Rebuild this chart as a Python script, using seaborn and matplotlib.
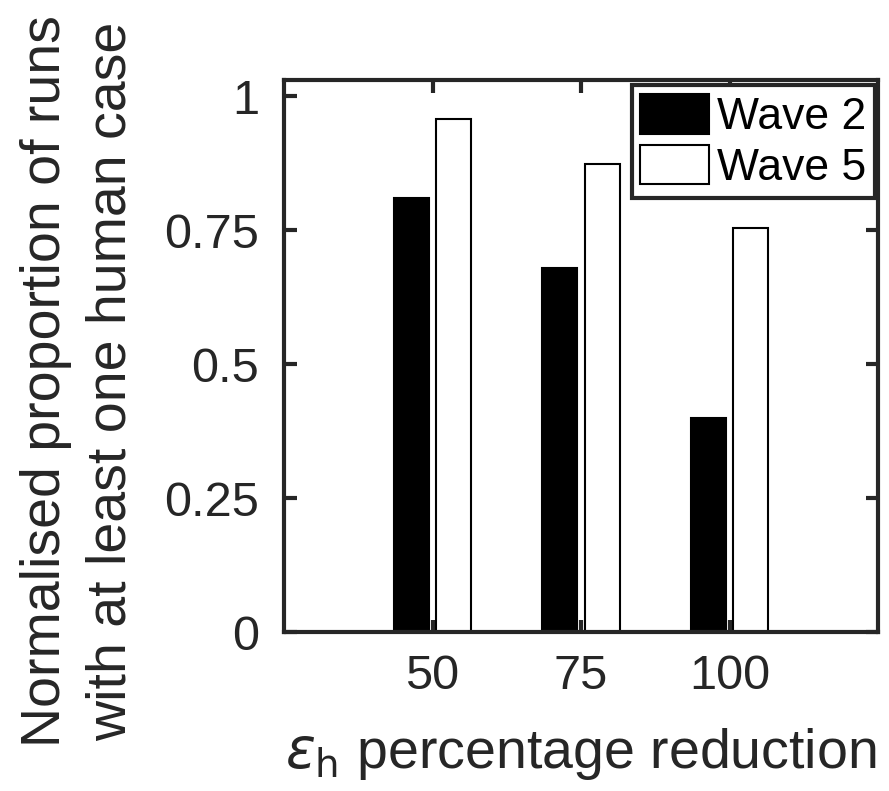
import matplotlib
matplotlib.use("Agg")
import matplotlib.pyplot as plt
import seaborn as sns
import pandas as pd

categories = ["50", "75", "100"]
wave2 = [0.81, 0.679, 0.399]
wave5 = [0.957, 0.873, 0.754]
series_names = ["Wave 2", "Wave 5"]
yticks = [0, 0.25, 0.5, 0.75, 1]
ytick_labels = ["0", "0.25", "0.5", "0.75", "1"]

df = pd.DataFrame({
    "cat": categories * 2,
    "val": wave2 + wave5,
    "series": [series_names[0]] * 3 + [series_names[1]] * 3,
})

sns.set_theme(style="white")
plt.rcParams["font.family"] = ["Liberation Sans", "DejaVu Sans"]
plt.rcParams["mathtext.fontset"] = "dejavusans"
txt = "#262626"

fig = plt.figure(figsize=(8.89, 7.91), dpi=100)
ax = fig.add_axes([284 / 889, 1 - 632 / 791, (878 - 284) / 889, (632 - 80) / 791])

sns.barplot(data=df, x="cat", y="val", hue="series", order=categories,
            palette={"Wave 2": "black", "Wave 5": "white"},
            edgecolor="black", linewidth=1.5, width=0.57, gap=0.17,
            ax=ax, errorbar=None)

ax.set_xlim(-1, 3)
ax.set_ylim(0, 1.03)
ax.set_yticks(yticks)
ax.set_yticklabels(ytick_labels)
ax.tick_params(axis="both", which="both", direction="in", length=9, width=3,
               color=txt, labelsize=35, labelcolor=txt, top=True, right=True,
               left=True, bottom=True)
ax.tick_params(axis="x", pad=16)
ax.tick_params(axis="y", pad=18)
for s in ax.spines.values():
    s.set_visible(True)
    s.set_linewidth(3)
    s.set_color(txt)

ax.set_xlabel(r"$\epsilon_{\mathrm{h}}$ percentage reduction", fontsize=40, color=txt, labelpad=19)
ax.set_ylabel("Normalised proportion of runs\nwith at least one human case", fontsize=40,
              color=txt, linespacing=1.34)
ax.yaxis.set_label_coords((138 - 284) / 594, (632 - 381) / 552)

leg = ax.legend(loc="upper right", bbox_to_anchor=(875 / 889, 1 - 85 / 791),
                bbox_transform=fig.transFigure, fontsize=32, frameon=True, fancybox=False,
                borderpad=0.2, handlelength=1.55, handleheight=1.0, labelspacing=0.15,
                handletextpad=0.17, borderaxespad=0)
leg.get_frame().set_edgecolor(txt)
leg.get_frame().set_linewidth(3)
leg.get_frame().set_alpha(1)
for t in leg.get_texts():
    t.set_color("black")

fig.savefig("out.png", dpi=100)
